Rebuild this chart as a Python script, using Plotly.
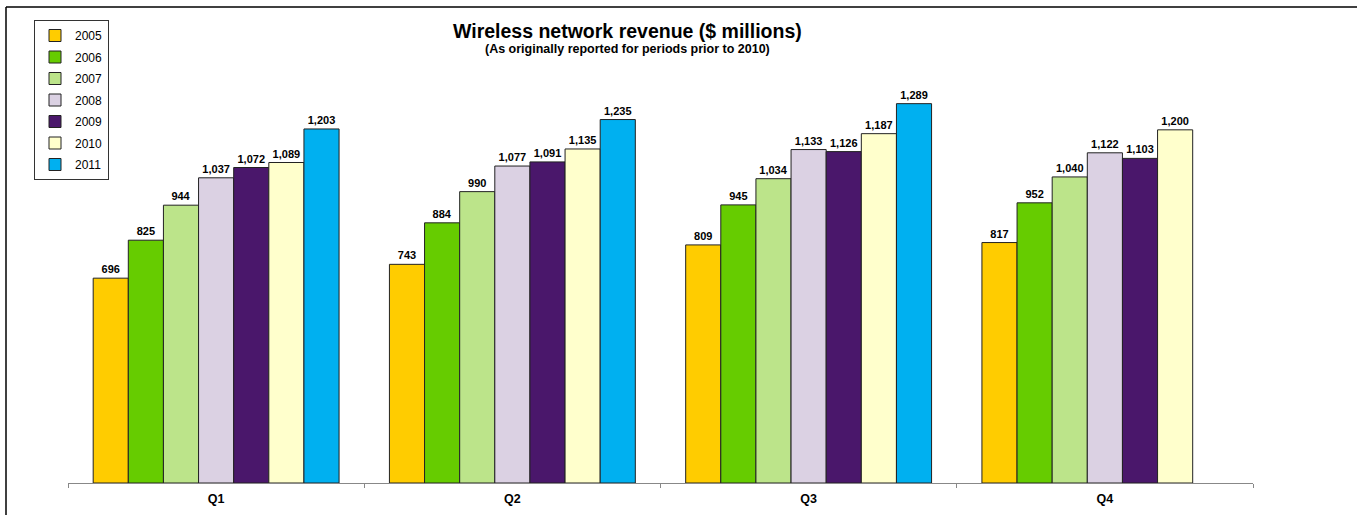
import plotly.graph_objects as go

quarters = ["Q1", "Q2", "Q3", "Q4"]
years = ["2005", "2006", "2007", "2008", "2009", "2010", "2011"]
values = {
    "2005": [696, 743, 809, 817],
    "2006": [825, 884, 945, 952],
    "2007": [944, 990, 1034, 1040],
    "2008": [1037, 1077, 1133, 1122],
    "2009": [1072, 1091, 1126, 1103],
    "2010": [1089, 1135, 1187, 1200],
    "2011": [1203, 1235, 1289, None],
}
colors = {
    "2005": "#FFCC00",
    "2006": "#66CC00",
    "2007": "#BCE48A",
    "2008": "#DBD1E3",
    "2009": "#4A176B",
    "2010": "#FFFFCC",
    "2011": "#00B0F0",
}

FONT = "Arial, Liberation Sans, sans-serif"

fig = go.Figure()
for y in years:
    fig.add_trace(go.Bar(
        name=y, x=quarters, y=values[y],
        legendgroup=y,
        marker=dict(color=colors[y], line=dict(color="#222222", width=1)),
        texttemplate="%{y:,}", textposition="outside",
        textfont=dict(family=FONT, size=11, color="black", weight="bold"),
        cliponaxis=False,
    ))

W, H = 1357, 515
L, R, T, B = 68, 104, 40, 32
pw = W - L - R
ph = H - T - B

def px_x(px):
    return (px - L) / pw

def px_y(py):
    return (H - B - py) / ph

fig.update_layout(
    width=W, height=H,
    margin=dict(l=L, r=R, t=T, b=B, autoexpand=False),
    plot_bgcolor="white", paper_bgcolor="white",
    barmode="group", bargap=0.17, bargroupgap=0,
    font=dict(family=FONT, color="black"),
    showlegend=True,
    legend=dict(
        x=px_x(34), y=px_y(20), xanchor="left", yanchor="top",
        bordercolor="#333333", borderwidth=1, bgcolor="white",
        font=dict(family=FONT, size=12),
        tracegroupgap=2.5, itemwidth=30,
    ),
    xaxis=dict(
        type="category", tickson="boundaries", ticks="outside", ticklen=4,
        tickcolor="#888888", showline=True, linecolor="#888888", linewidth=1,
        tickfont=dict(family=FONT, size=12.5, weight="bold"),
        ticklabelstandoff=4, automargin=False,
        showgrid=False,
    ),
    yaxis=dict(range=[0, ph / 0.2943], visible=False, showgrid=False, zeroline=False,
               automargin=False),
    annotations=[
        dict(text="<b>Wireless network revenue ($ millions)</b>", x=px_x(627), y=px_y(31),
             xref="paper", yref="paper", xanchor="center", yanchor="middle",
             showarrow=False, font=dict(size=19.5, family=FONT)),
        dict(text="<b>(As originally reported for periods prior to 2010)</b>", x=px_x(627), y=px_y(49),
             xref="paper", yref="paper", xanchor="center", yanchor="middle",
             showarrow=False, font=dict(size=12.5, family=FONT)),
    ],
    shapes=[
        dict(type="line", xref="paper", yref="paper", x0=px_x(6), x1=px_x(1360), y0=px_y(7), y1=px_y(7),
             line=dict(color="black", width=1.5)),
        dict(type="line", xref="paper", yref="paper", x0=px_x(6), x1=px_x(6), y0=px_y(7), y1=px_y(520),
             line=dict(color="black", width=1.5)),
    ],
)

fig.write_html(
    "out.html",
    config={"displayModeBar": False},
    post_script="document.body.style.margin='0px'; document.body.style.overflow='hidden';",
)
